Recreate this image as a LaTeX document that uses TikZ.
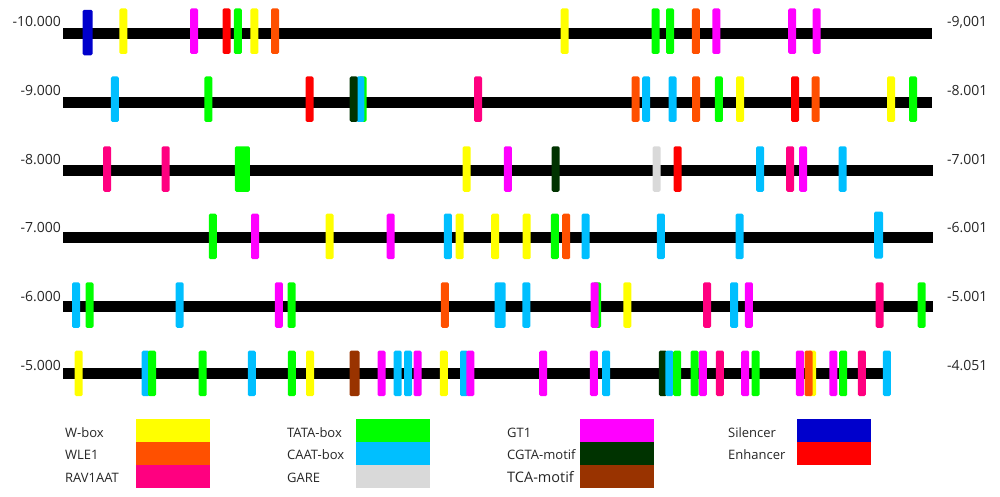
\documentclass[tikz,border=0pt]{standalone}
\usepackage{fontspec}
\setmainfont{Open Sans}
\usetikzlibrary{positioning}
\definecolor{wbox}{RGB}{255,255,0}
\definecolor{wle}{RGB}{255,80,0}
\definecolor{rav}{RGB}{255,0,128}
\definecolor{tata}{RGB}{0,255,0}
\definecolor{caat}{RGB}{0,191,255}
\definecolor{gare}{RGB}{217,217,217}
\definecolor{gt}{RGB}{255,0,255}
\definecolor{cgta}{RGB}{0,51,0}
\definecolor{tca}{RGB}{153,51,0}
\definecolor{sil}{RGB}{0,0,204}
\definecolor{enh}{RGB}{255,0,0}

\begin{document}
\begin{tikzpicture}[x=1pt,y=-1pt]
\tikzstyle{elem}=[rectangle,minimum width=8pt,minimum height=45.5pt,inner sep=0pt,rounded corners=1.5pt]
\tikzstyle{track}=[line width=11pt]
\tikzstyle{num}=[font=\fontsize{14}{16}\selectfont,inner sep=0pt,text=black!85]
\tikzstyle{sw}=[rectangle,minimum width=74pt,minimum height=22.5pt,inner sep=0pt]
\tikzstyle{lab}=[font=\fontsize{13}{15}\selectfont,inner sep=0pt,anchor=base west,text=black!85]
\useasboundingbox (0,0) rectangle (1000,496);

% row 1
\coordinate (s1) at (63,33.8);
\coordinate (e1) at (932,33.8);
\draw[track] (s1) -- (e1);
\node[num,anchor=base east] (l1) at (61,26) {-10.000};
\node[num,anchor=base west] (r1) at (947,26) {-9,001};
\node[elem,fill=sil,minimum width=10pt] (a0) at (87.7,32.5) {};
\foreach \x/\c [count=\i] in {123.3/wbox,194/gt,226.5/enh,237.8/tata,254.3/wbox,275/wle,564.7/wbox,655.5/tata,670/tata,695.8/wle,716.3/gt,792.2/gt,816.7/gt}
  \node[elem,fill=\c] (a\i) at (\x,31.2) {};

% row 2
\coordinate (s2) at (63,102.2);
\coordinate (e2) at (932,102.2);
\draw[track] (s2) -- (e2);
\node[num,anchor=base east] (l2) at (61,95) {-9.000};
\node[num,anchor=base west] (r2) at (947,95) {-8.001};
\foreach \x/\c [count=\i] in {114.8/caat,208.3/tata,309.5/enh,362.5/tata,360.3/caat,353.7/cgta,478/rav,635.5/wle,646.2/caat,672.5/caat,696/wle,718.8/tata,740/wbox,795/enh,815.7/wle,891/wbox,913/tata}
  \node[elem,fill=\c] (b\i) at (\x,99.2) {};

% row 3
\coordinate (s3) at (63,170.5);
\coordinate (e3) at (933,170.5);
\draw[track] (s3) -- (e3);
\node[num,anchor=base east] (l3) at (61,164) {-8.000};
\node[num,anchor=base west] (r3) at (947,164) {-7.001};
\node[elem,fill=tata,minimum width=15pt] (c0) at (242.3,169) {};
\foreach \x/\c [count=\i] in {107.2/rav,165.7/rav,466.7/wbox,507.8/gt,555.5/cgta,656.5/gare,677.5/enh,760.2/caat,790.2/rav,803.2/gt,842.5/caat}
  \node[elem,fill=\c] (c\i) at (\x,169) {};

% row 4
\coordinate (s4) at (63,237.2);
\coordinate (e4) at (933,237.2);
\draw[track] (s4) -- (e4);
\node[num,anchor=base east] (l4) at (61,232) {-7.000};
\node[num,anchor=base west] (r4) at (947,232) {-6.001};
\node[elem,fill=caat,minimum width=9pt,minimum height=47pt] (d0) at (878.7,235) {};
\foreach \x/\c [count=\i] in {212.8/tata,255/gt,329.5/wbox,390.7/gt,447.8/caat,459.7/wbox,495.2/wbox,526.7/wbox,554.8/tata,566.2/wle,585.5/caat,660.8/caat,739.5/caat}
  \node[elem,fill=\c] (d\i) at (\x,236.3) {};

% row 5
\coordinate (s5) at (63,306.7);
\coordinate (e5) at (933,306.7);
\draw[track] (s5) -- (e5);
\node[num,anchor=base east] (l5) at (61,301) {-6.000};
\node[num,anchor=base west] (r5) at (947,301) {-5.001};
\node[elem,fill=caat,minimum width=11pt] (f0) at (500,305) {};
\foreach \x/\c [count=\i] in {76/caat,89.5/tata,179.7/caat,278.8/gt,291.5/tata,444.8/wle,526.3/caat,597.2/tata,594.5/gt,627.3/wbox,707.2/rav,734.2/caat,748.8/gt,879.5/rav,921.7/tata}
  \node[elem,fill=\c] (f\i) at (\x,305) {};

% row 6
\coordinate (s6) at (63,373.8);
\coordinate (e6) at (885,373.8);
\draw[track] (s6) -- (e6);
\node[num,anchor=base east] (l6) at (61,370) {-5.000};
\node[num,anchor=base west] (r6) at (947,370) {-4.051};
\node[elem,fill=tca,minimum width=10pt] (g0) at (354.5,373.3) {};
\foreach \x/\c [count=\i] in {78.7/wbox,145.7/caat,152/tata,202.7/tata,251.8/caat,291.8/tata,310/wbox,381.5/gt,397.7/caat,408/caat,417.5/gt,443.8/wbox,464/caat,470.3/gt,543.2/gt,593.8/gt,606.2/caat,662.8/cgta,669.3/caat,677.2/tata,694.5/tata,702.8/gt,719.8/rav,745.2/gt,755.5/tata,799.8/gt,812/wbox,808.5/wle,833.3/gt,843.2/tata,861.8/rav,886.8/caat}
  \node[elem,fill=\c] (g\i) at (\x,373.3) {};

% legend
\node[sw,fill=wbox] (kw) at (173,430.5) {};
\node[sw,fill=wle,below=0pt of kw] (kwle) {};
\node[sw,fill=rav,below=0pt of kwle] (krav) {};
\node[sw,fill=tata] (ktata) at (393,430.5) {};
\node[sw,fill=caat,below=0pt of ktata] (kcaat) {};
\node[sw,fill=gare,below=0pt of kcaat] (kgare) {};
\node[sw,fill=gt] (kgt) at (617,430.5) {};
\node[sw,fill=cgta,below=0pt of kgt] (kcgta) {};
\node[sw,fill=tca,below=0pt of kcgta] (ktca) {};
\node[sw,fill=sil] (ksil) at (834,430.5) {};
\node[sw,fill=enh,below=0pt of ksil] (kenh) {};

\node[lab] (tw) at (65,437.5) {W-box};
\node[lab] (twle) at (65,459.5) {WLE1};
\node[lab] (trav) at (65,482) {RAV1AAT};
\node[lab] (ttata) at (287,437.5) {TATA-box};
\node[lab] (tcaat) at (287,459.5) {CAAT-box};
\node[lab] (tgare) at (287,482) {GARE};
\node[lab] (tgt) at (507,437.5) {GT1};
\node[lab] (tcgta) at (507,459.5) {CGTA-motif};
\node[lab,font=\fontsize{14.5}{16}\selectfont] (ttca) at (507,482) {TCA-motif};
\node[lab] (tsil) at (728,437.5) {Silencer};
\node[lab] (tenh) at (728,459.5) {Enhancer};
\end{tikzpicture}
\end{document}
